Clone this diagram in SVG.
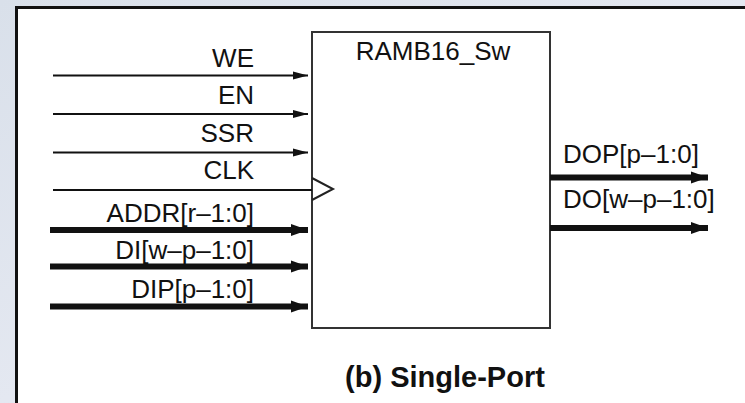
<svg xmlns="http://www.w3.org/2000/svg" width="745" height="403" viewBox="0 0 745 403">
<defs>
<linearGradient id="bg" x1="0" y1="0" x2="1" y2="1">
<stop offset="0" stop-color="#d9e0ea"/>
<stop offset="0.5" stop-color="#e4e8f1"/>
<stop offset="1" stop-color="#dde3ec"/>
</linearGradient>
<marker id="thin" markerUnits="userSpaceOnUse" markerWidth="16" markerHeight="10" refX="15" refY="5" orient="auto">
<path d="M0,1 L15,5 L0,9 Z" fill="#111"/>
</marker>
<marker id="thick" markerUnits="userSpaceOnUse" markerWidth="18" markerHeight="14" refX="17" refY="7" orient="auto">
<path d="M0,1 L17,7 L0,13 Z" fill="#111"/>
</marker>
</defs>
<style>
.lbl{font-family:"Liberation Sans",Arial,sans-serif;font-size:26px;fill:#111}
.r{text-anchor:end}
.cap{font-size:29px;font-weight:bold;text-anchor:middle}
.tw{stroke:#111;stroke-width:2;fill:none}
.tk{stroke:#111;stroke-width:6;fill:none}
</style>
<rect x="0" y="0" width="745" height="403" fill="url(#bg)"/>
<rect x="16.5" y="7.5" width="740" height="410" fill="#fff" stroke="#111" stroke-width="3"/>
<g id="block">
<rect x="312" y="32" width="238" height="296" fill="#fff" stroke="#333" stroke-width="2"/>
<text class="lbl" x="433" y="60" text-anchor="middle">RAMB16_Sw</text>
<path d="M312,178 L333,189 L312,200" fill="none" stroke="#222" stroke-width="2"/>
</g>
<g id="labels">
<text class="lbl r" x="254" y="67">WE</text>
<text class="lbl r" x="254" y="104">EN</text>
<text class="lbl r" x="254" y="142">SSR</text>
<text class="lbl r" x="254" y="179">CLK</text>
<text class="lbl r" x="254" y="222">ADDR[r–1:0]</text>
<text class="lbl r" x="254" y="259">DI[w–p–1:0]</text>
<text class="lbl r" x="254" y="298">DIP[p–1:0]</text>
<text class="lbl" x="563" y="163">DOP[p–1:0]</text>
<text class="lbl" x="563" y="208">DO[w–p–1:0]</text>
</g>
<g id="connectors">
<line class="tw" x1="53" y1="75.5" x2="308" y2="75.5" marker-end="url(#thin)"/>
<line class="tw" x1="53" y1="114" x2="308" y2="114" marker-end="url(#thin)"/>
<line class="tw" x1="53" y1="152.5" x2="308" y2="152.5" marker-end="url(#thin)"/>
<line class="tw" x1="53" y1="190" x2="312" y2="190"/>
<line class="tk" x1="50" y1="230" x2="308" y2="230" marker-end="url(#thick)"/>
<line class="tk" x1="50" y1="266.5" x2="308" y2="266.5" marker-end="url(#thick)"/>
<line class="tk" x1="50" y1="306.5" x2="308" y2="306.5" marker-end="url(#thick)"/>
<line class="tk" x1="550" y1="177.5" x2="708" y2="177.5" marker-end="url(#thick)"/>
<line class="tk" x1="550" y1="228" x2="708" y2="228" marker-end="url(#thick)"/>
</g>
<text class="lbl cap" x="445" y="387">(b) Single-Port</text>
</svg>
